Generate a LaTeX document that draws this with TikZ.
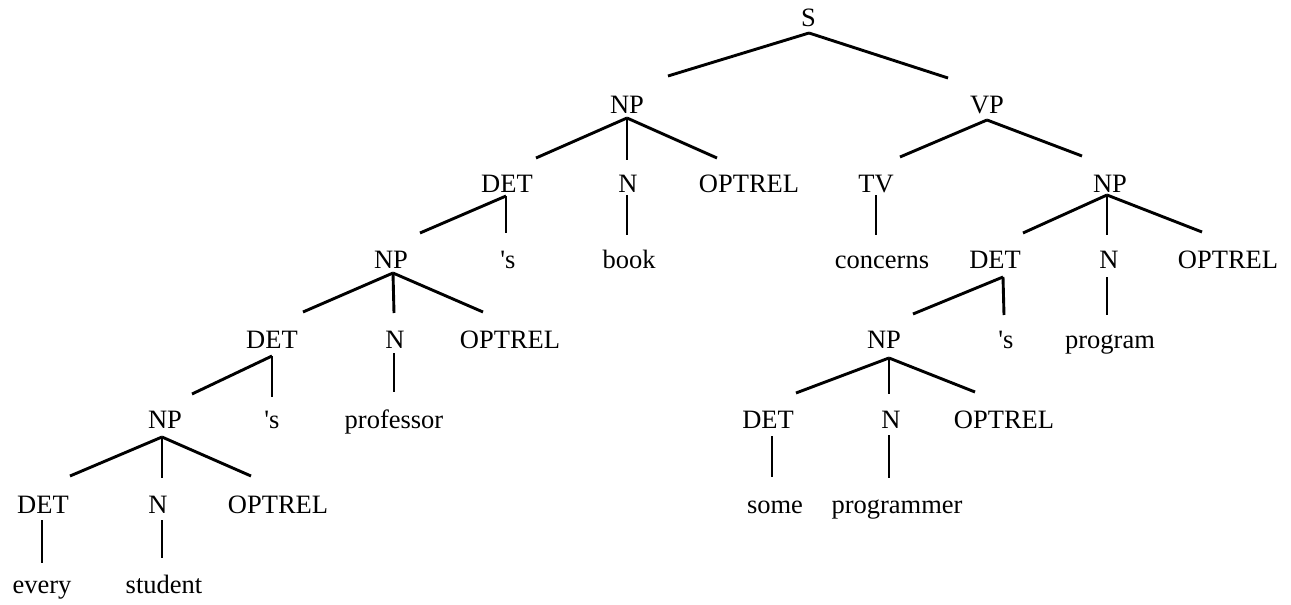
\documentclass[tikz,border=0pt]{standalone}
\usepackage{fontspec}
\setmainfont{Liberation Serif}
\usetikzlibrary{calc}
\newcommand\conn[4]{\draw[branch] ($(#1.base)+(#2)$) -- ($(#3.base)+(#4)$);}
\begin{document}
\begin{tikzpicture}[x=1pt,y=-1pt,
  lbl/.style={anchor=base,inner sep=0pt,font=\fontsize{26.5}{30}\selectfont,text=black},
  branch/.style={draw=black,line width=2.9pt}]
\useasboundingbox (0,0) rectangle (1291,605);
% level 0
\node[lbl] (S) at (808.5,27) {S};
% level 1
\node[lbl] (np1) at (627,113) {NP};
\node[lbl] (vp) at (987,113) {VP};
% level 2
\node[lbl] (det1) at (507,192) {DET};
\node[lbl] (n1) at (628,192) {N};
\node[lbl] (opt1) at (749,192) {OPTREL};
\node[lbl] (tv) at (876,192) {TV};
\node[lbl] (np2) at (1110,192) {NP};
% level 3
\node[lbl] (np3) at (391,268) {NP};
\node[lbl] (s1) at (508,268) {\textquotesingle s};
\node[lbl] (book) at (629,268) {book};
\node[lbl] (concerns) at (882,268) {concerns};
\node[lbl] (det2) at (995,268) {DET};
\node[lbl] (n2) at (1109,268) {N};
\node[lbl] (opt2) at (1228,268) {OPTREL};
% level 4
\node[lbl] (det3) at (272,348) {DET};
\node[lbl] (n3) at (395,348) {N};
\node[lbl] (opt3) at (510,348) {OPTREL};
\node[lbl] (np4) at (884,348) {NP};
\node[lbl] (s2) at (1006,348) {\textquotesingle s};
\node[lbl] (program) at (1110,348) {program};
% level 5
\node[lbl] (np5) at (165,428) {NP};
\node[lbl] (s3) at (272,428) {\textquotesingle s};
\node[lbl] (professor) at (394,428) {professor};
\node[lbl] (det4) at (768,428) {DET};
\node[lbl] (n4) at (891,428) {N};
\node[lbl] (opt4) at (1004,428) {OPTREL};
% level 6
\node[lbl] (det5) at (43,513) {DET};
\node[lbl] (n5) at (158,513) {N};
\node[lbl] (opt5) at (278,513) {OPTREL};
\node[lbl] (some) at (775,513) {some};
\node[lbl] (programmer) at (897,513) {programmer};
% level 7
\node[lbl] (every) at (42,593) {every};
\node[lbl] (student) at (164,593) {student};
% connectors
\conn{S}{0.5,6}{np1}{41,-37}
\conn{S}{0.5,6}{vp}{-39,-35}
\conn{np1}{0,5}{det1}{29,-34}
\conn{np1}{0,5}{n1}{-1,-32}
\conn{np1}{0,5}{opt1}{-32,-34}
\conn{vp}{0,7}{tv}{24,-35}
\conn{vp}{0,7}{np2}{-28,-36}
\conn{det1}{-1,4}{np3}{29,-35}
\conn{det1}{-1,4}{s1}{-2,-35}
\conn{n1}{-1,3}{book}{-2,-33}
\conn{tv}{0,3}{concerns}{-6,-33}
\conn{np2}{-3,3}{det2}{28,-35}
\conn{np2}{-3,3}{n2}{-2,-33}
\conn{np2}{-3,3}{opt2}{-26,-36}
\conn{det2}{8,9}{np4}{29,-34}
\conn{det2}{8,9}{s2}{-2,-33}
\conn{n2}{-2,9}{program}{-3,-33}
\conn{np3}{2,5}{det3}{31,-36}
\conn{np3}{2,5}{n3}{-1,-35}
\conn{np3}{2,5}{opt3}{-27,-36}
\conn{det3}{0,8}{np5}{27,-34}
\conn{det3}{0,8}{s3}{0,-31}
\conn{n3}{-1,5}{professor}{0,-36}
\conn{np4}{5,10}{det4}{28,-35}
\conn{np4}{5,10}{n4}{-2,-34}
\conn{np4}{5,10}{opt4}{-29,-36}
\conn{det4}{4,8}{some}{-3,-36}
\conn{n4}{-2,7}{programmer}{-8,-35}
\conn{np5}{-3,9}{det5}{27,-37}
\conn{np5}{-3,9}{n5}{4,-35}
\conn{np5}{-3,9}{opt5}{-27,-37}
\conn{det5}{-1,7}{every}{0,-30}
\conn{n5}{4,7}{student}{-2,-35}
\end{tikzpicture}
\end{document}
